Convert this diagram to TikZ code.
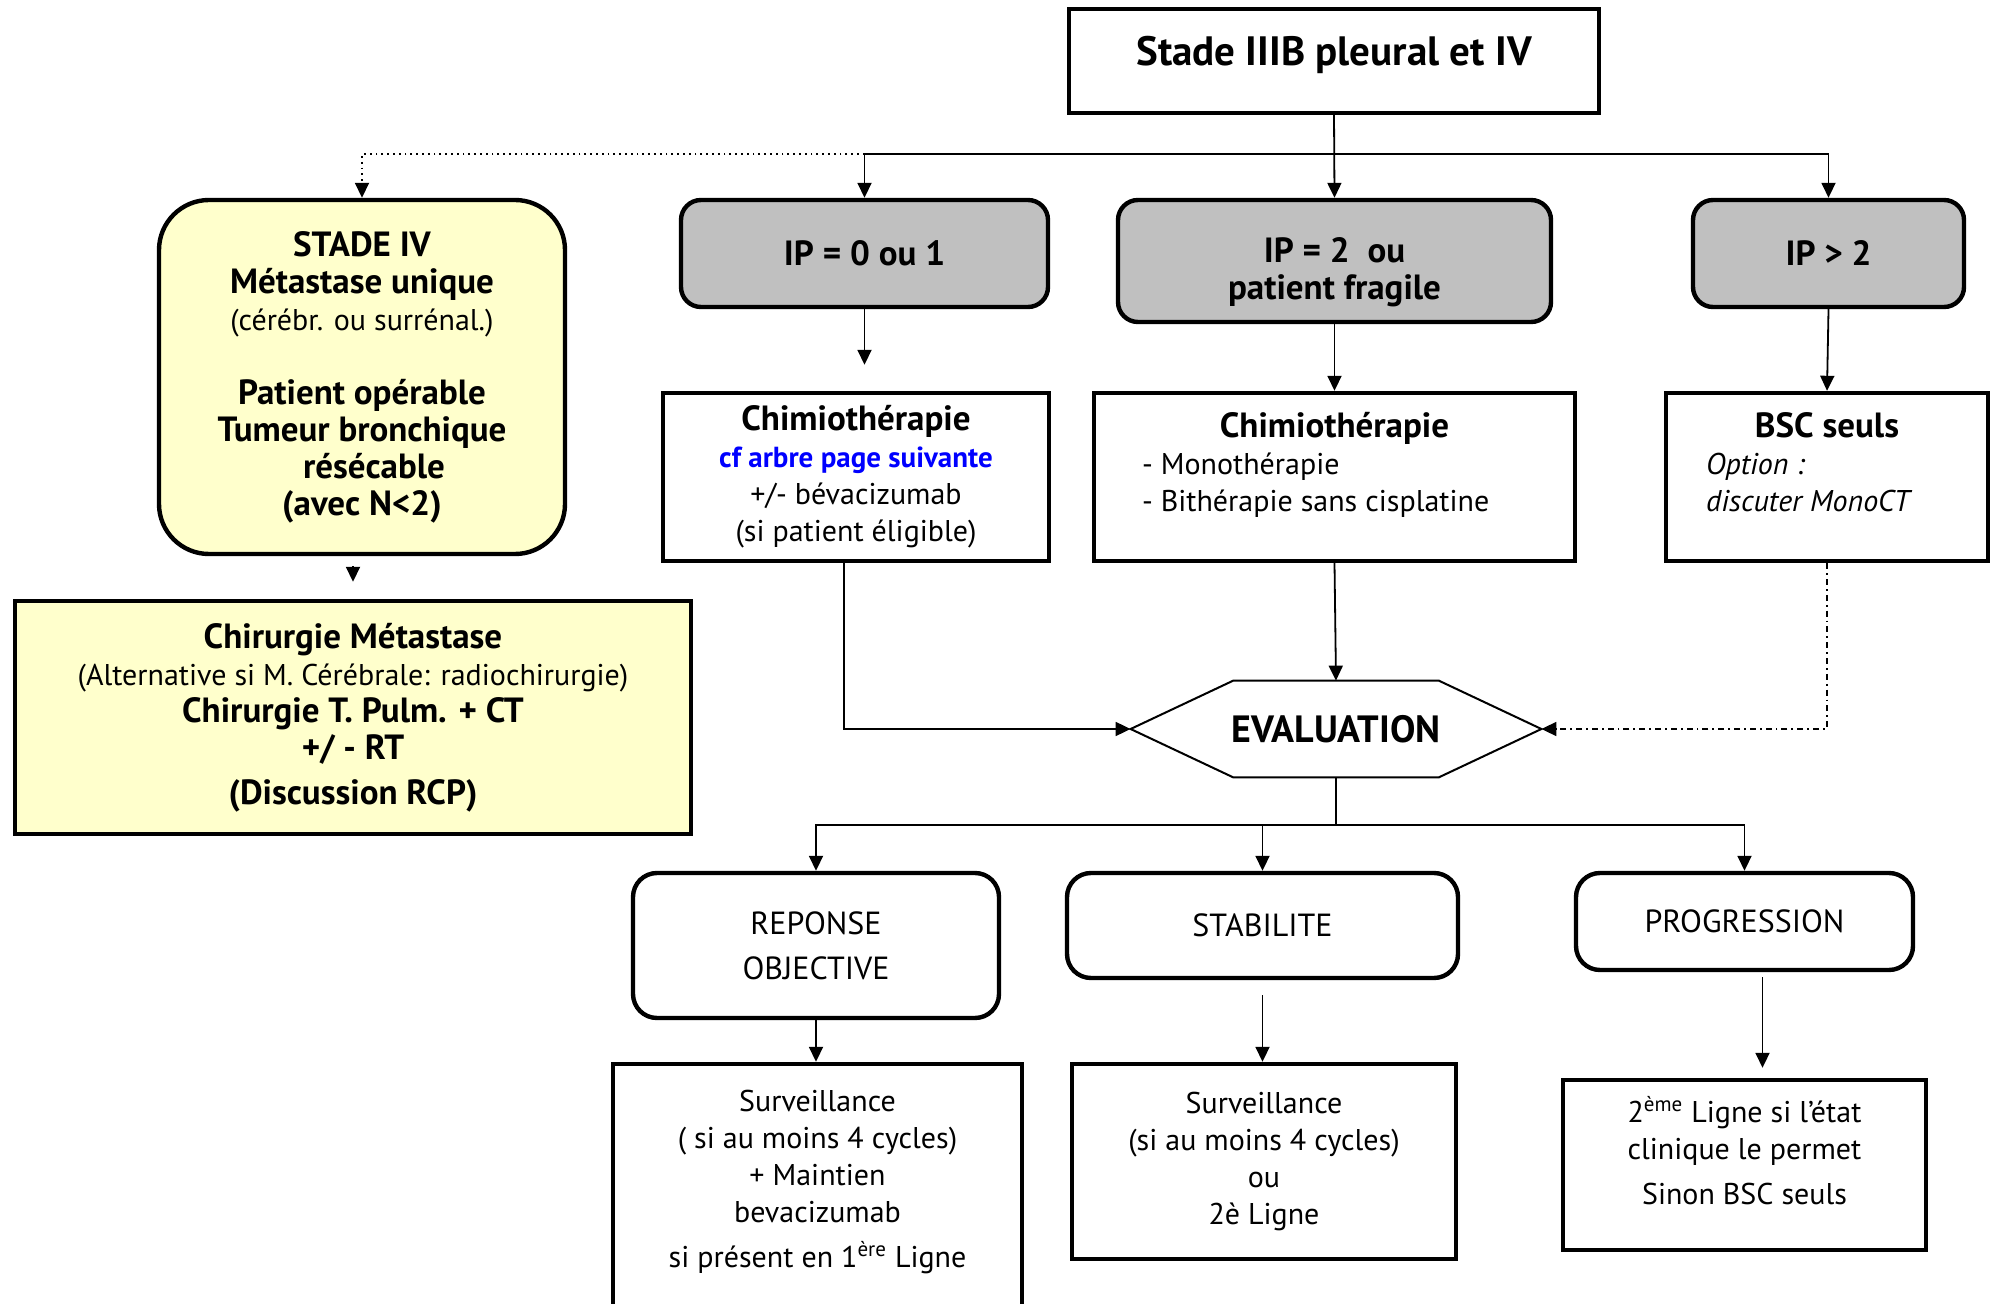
\documentclass[tikz,border=0pt]{standalone}
\usepackage{fontspec}
\setmainfont{PT Sans}
\usetikzlibrary{arrows.meta,calc}

\definecolor{paleyellow}{RGB}{255,255,204}
\definecolor{ipgray}{RGB}{192,192,192}
\definecolor{linkblue}{RGB}{0,0,255}

% bold headings are set a little larger than the body text
\newcommand{\bt}[1]{{\fontsize{17.5}{18.5}\selectfont\bfseries #1}}

\tikzset{
  plainbox/.style={draw, line width=2.2pt, align=center, inner sep=4pt,
    font=\fontsize{15}{18.5}\selectfont},
  ipbox/.style={plainbox, rounded corners=10pt, fill=ipgray},
  resbox/.style={plainbox, rounded corners=12pt, font=\fontsize{16}{18.5}\selectfont},
  yellowbox/.style={plainbox, fill=paleyellow},
  arr/.style={line width=0.9pt, -{Triangle[length=7.5pt,width=7pt]}},
}

\begin{document}
\begin{tikzpicture}[x=0.5pt,y=-0.5pt]
  \useasboundingbox (0,0) rectangle (1996,1304);
  % head of the tree
  \node[plainbox, minimum width=265pt, minimum height=52pt,
    font=\fontsize{20.5}{23}\selectfont\bfseries] (stade) at (1334,61)
    {Stade IIIB pleural et IV\\[-12.5pt]\mbox{}};
  % stage IV, single metastasis
  \node[yellowbox, rounded corners=25pt, minimum width=203pt, minimum height=177pt] (stadeiv) at (362,377)
    {\bt{STADE IV}\\ \bt{Métastase unique}\\ (cérébr. ou surrénal.)\\[18.5pt]
     \bt{Patient opérable}\\ \bt{Tumeur bronchique}\\ \hspace*{12pt}\bt{résécable}\\ \bt{(avec N<2)}};
  \node[yellowbox, minimum width=338pt, minimum height=116.5pt] (chir) at (353,717.5)
    {\bt{Chirurgie Métastase}\\ (Alternative si M. Cérébrale: radiochirurgie)\\
     \bt{Chirurgie T. Pulm. + CT}\\ \bt{+/ - RT}\\[4pt] \bt{(Discussion RCP)}};
  % performance status
  \node[ipbox, minimum width=183.5pt, minimum height=53.5pt] (ip0) at (864.5,253.5) {\bt{IP = 0 ou 1}};
  \node[ipbox, minimum width=216.5pt, minimum height=61pt] (ip2) at (1334.5,261)
    {\mbox{}\\[5.5pt] \bt{IP = 2~ ou}\\ \bt{patient fragile}};
  \node[ipbox, minimum width=135.5pt, minimum height=53.5pt] (ip3) at (1828.5,253.5) {\bt{IP > 2}};
  % treatments
  \node[plainbox, minimum width=193pt, minimum height=84pt] (chim1) at (856,477)
    {\bt{Chimiothérapie}\\ {\fontsize{14.5}{18.5}\selectfont\bfseries\color{linkblue}cf arbre page suivante}\\
     +/- bévacizumab\\ (si patient éligible)};
  \node[plainbox, minimum width=240.5pt, minimum height=84pt] (chim2) at (1334.5,477)
    {\bt{Chimiothérapie}\\ \makebox[192.5pt][l]{- Monothérapie}\\
     \makebox[192.5pt][l]{- Bithérapie sans cisplatine}\\[-3.5pt]\mbox{}};
  \node[plainbox, minimum width=161pt, minimum height=84pt] (bsc) at (1827,477)
    {\bt{BSC seuls}\\ \makebox[121pt][l]{\itshape Option :}\\
     \makebox[121pt][l]{\itshape discuter MonoCT}\\[-3.5pt]\mbox{}};
  % evaluation
  \node[minimum width=205pt, minimum height=48pt, inner sep=0pt,
    font=\fontsize{19}{20}\selectfont\bfseries] (eval) at (1336,729) {EVALUATION};
  \draw[line width=1pt] (eval.west) -- ($(eval.north west)!0.25!(eval.north east)$)
    -- ($(eval.north west)!0.75!(eval.north east)$) -- (eval.east)
    -- ($(eval.south west)!0.75!(eval.south east)$) -- ($(eval.south west)!0.25!(eval.south east)$) -- cycle;
  % results
  \node[resbox, minimum width=183pt, minimum height=72.5pt] (rep) at (816,945.5) {REPONSE\\[4pt] OBJECTIVE};
  \node[resbox, minimum width=195.5pt, minimum height=52.5pt] (stab) at (1262.5,925.5) {STABILITE};
  \node[resbox, minimum width=168.5pt, minimum height=48.5pt] (prog) at (1744.5,921.5) {PROGRESSION};
  % follow-up
  \node[plainbox, minimum width=204.5pt, minimum height=133pt] (surv1) at (817.5,1197)
    {Surveillance\\ ( si au moins 4 cycles)\\ + Maintien\\ bevacizumab\\[4pt]
     si présent en 1\textsuperscript{ère} Ligne\\ \mbox{}};
  \node[plainbox, minimum width=192pt, minimum height=97.5pt] (surv2) at (1264,1161.5)
    {Surveillance\\ (si au moins 4 cycles)\\ ou\\ 2è Ligne};
  \node[plainbox, minimum width=181.5pt, minimum height=85pt] (ligne2) at (1744.5,1165)
    {2\textsuperscript{ème} Ligne si l’état\\ clinique le permet\\[4pt] Sinon BSC seuls\\[-4pt]\mbox{}};
  % connectors
  \coordinate (split) at (1334,154);
  \coordinate (split2) at (1336,825);
  \draw[arr] (stade.south) -- (ip2.north);
  \draw[arr] (split) -| (ip0.north);
  \draw[arr] (split) -| (ip3.north);
  \draw[arr, dotted] (ip0.north |- split) -| (stadeiv.north);
  \draw[arr, shorten <=5pt, shorten >=8.5pt] (stadeiv.south -| chir.north) -- (chir.north);
  \draw[arr, shorten >=13pt] (ip0.south) -- (ip0.south |- chim1.north);
  \draw[arr] (ip2.south) -- (chim2.north);
  \draw[arr] (ip3.south) -- (bsc.north);
  \draw[arr] ([xshift=-6pt]chim1.south) |- (eval.west);
  \draw[arr] (chim2.south) -- (eval.north);
  \draw[arr, dash dot] (bsc.south) |- (eval.east);
  \draw[line width=0.9pt] (eval.south) -- (split2);
  \draw[arr] (split2) -| (rep.north);
  \draw[arr] (split2) -| (stab.north);
  \draw[arr] (split2) -| (prog.north);
  \draw[arr] (rep.south) -- (rep.south |- surv1.north);
  \draw[arr, shorten <=7.5pt] (stab.south) -- (stab.south |- surv2.north);
  \draw[arr, shorten <=2.5pt, shorten >=5pt] ([xshift=9pt]prog.south) -- ([xshift=9pt]prog.south |- ligne2.north);
\end{tikzpicture}
\end{document}
